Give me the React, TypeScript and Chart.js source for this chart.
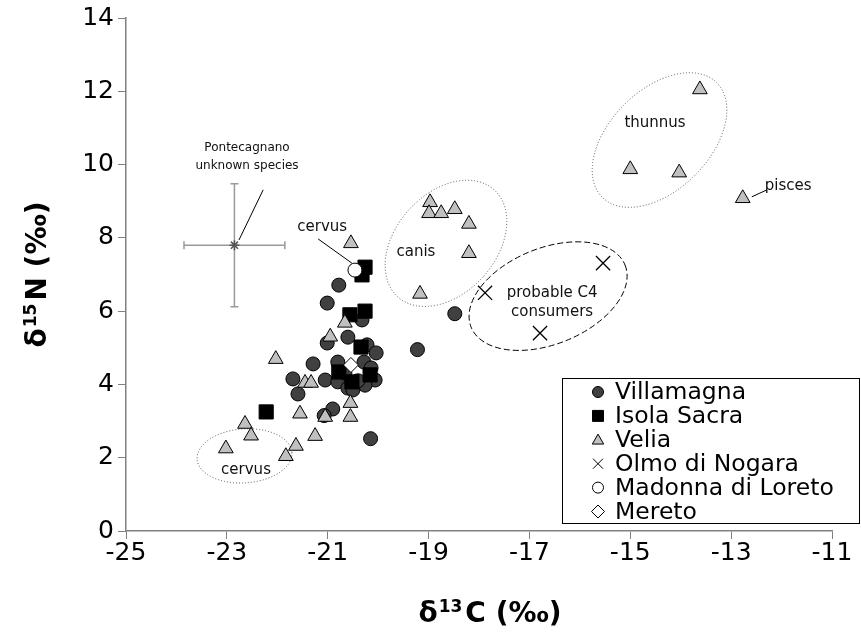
import { useEffect, useRef } from "react";
import { Chart, registerables } from "chart.js";

Chart.register(...registerables);

const FONT = '"DejaVu Sans", Verdana, sans-serif';

// δ13C / δ15N values per site (‰)
const villamagnaC13 = [-20.78, -21.01, -20.32, -21.01, -20.6, -20.22, -20.04, -21.29, -20.8, -20.28, -20.14, -20.06, -21.69, -21.05, -20.8, -20.6, -20.26, -21.59, -20.9, -21.07, -20.15, -19.22, -18.48, -20.66, -20.5, -20.4];
const villamagnaN15 = [6.71, 6.22, 5.76, 5.13, 5.29, 5.08, 4.86, 4.56, 4.61, 4.61, 4.45, 4.12, 4.15, 4.12, 4.07, 3.9, 3.98, 3.74, 3.33, 3.15, 2.52, 4.95, 5.93, 4.31, 3.85, 4.1];

const isolaSacraC13 = [-20.26, -20.32, -20.56, -20.26, -20.34, -20.78, -20.16, -20.52, -22.22];
const isolaSacraN15 = [7.2, 6.99, 5.9, 6.0, 5.02, 4.34, 4.26, 4.07, 3.25];

const veliaC13 = [-20.54, -20.66, -20.95, -22.03, -21.45, -21.33, -20.55, -20.55, -21.05, -21.55, -22.64, -22.52, -21.25, -21.63, -21.83, -23.02, -18.97, -18.99, -18.75, -18.48, -18.2, -18.2, -19.17, -13.62, -15.0, -14.03, -12.77];
const veliaN15 = [7.85, 5.68, 5.3, 4.69, 4.04, 4.04, 3.49, 3.11, 3.11, 3.2, 2.92, 2.6, 2.59, 2.32, 2.04, 2.25, 8.97, 8.67, 8.67, 8.78, 8.38, 7.58, 6.47, 12.05, 9.87, 9.78, 9.08];

const olmoC13 = [-17.88, -15.54, -16.79];
const olmoN15 = [6.5, 7.31, 5.4];

const madonnaC13 = [-20.46];
const madonnaN15 = [7.12];

const meretoC13 = [-20.54];
const meretoN15 = [4.53];

// Pontecagnano, unknown species: mean with ±1 SD
const pontecagnanoC13 = [-22.85];
const pontecagnanoN15 = [7.8];
const pontecagnanoC13Sd = [1.0];
const pontecagnanoN15Sd = [1.68];

const xTicksMin = -25;
const xTicksMax = -11;
const yTicksMin = 0;
const yTicksMax = 14;
const tickStep = 2;

// group outlines: centre in data units, radii (px), rotation (deg)
const groupEllipses = [
  { cx: -22.65, cy: 2.05, rx: 47.5, ry: 27, rot: -4, dash: [1, 2] },
  { cx: -18.655, cy: 7.85, rx: 50, ry: 72, rot: 42, dash: [1, 2] },
  { cx: -14.42, cy: 10.67, rx: 50, ry: 81, rot: 45, dash: [1, 2] },
  { cx: -16.63, cy: 6.41, rx: 83, ry: 48, rot: -22, dash: [6, 3] },
];

const groupLabels = [
  { text: "Pontecagnano", x: -22.6, y: 10.45, size: 12 },
  { text: "unknown species", x: -22.6, y: 9.96, size: 12 },
  { text: "cervus", x: -21.11, y: 8.3, size: 15 },
  { text: "canis", x: -19.25, y: 7.61, size: 15 },
  { text: "thunnus", x: -14.51, y: 11.14, size: 15 },
  { text: "pisces", x: -11.87, y: 9.42, size: 15 },
  { text: "probable C4", x: -16.55, y: 6.5, size: 15 },
  { text: "consumers", x: -16.55, y: 5.98, size: 15 },
  { text: "cervus", x: -22.62, y: 1.66, size: 15 },
];

const leaderLines = [
  { x1: -22.76, y1: 7.94, x2: -22.28, y2: 9.31 },
  { x1: -21.19, y1: 7.97, x2: -20.52, y2: 7.31 },
  { x1: -12.59, y1: 9.12, x2: -12.29, y2: 9.31 },
];

const pts = (xs: number[], ys: number[]) => xs.map((x, i) => ({ x, y: ys[i] }));

type Shape = "circle" | "rect" | "triangle" | "crossRot" | "rectRot";

function drawShape(ctx: CanvasRenderingContext2D, shape: Shape, x: number, y: number, r: number, fill: string | null) {
  ctx.beginPath();
  if (shape === "circle") {
    ctx.arc(x, y, r, 0, Math.PI * 2);
  } else if (shape === "rect") {
    ctx.rect(x - r, y - r, 2 * r, 2 * r);
  } else if (shape === "triangle") {
    const h = r * 0.95;
    ctx.moveTo(x, y - h);
    ctx.lineTo(x + r * 0.95, y + h * 0.75);
    ctx.lineTo(x - r * 0.95, y + h * 0.75);
    ctx.closePath();
  } else if (shape === "rectRot") {
    ctx.moveTo(x - r, y);
    ctx.lineTo(x, y - r);
    ctx.lineTo(x + r, y);
    ctx.lineTo(x, y + r);
    ctx.closePath();
  } else if (shape === "crossRot") {
    ctx.moveTo(x - r, y - r);
    ctx.lineTo(x + r, y + r);
    ctx.moveTo(x + r, y - r);
    ctx.lineTo(x - r, y + r);
  }
  if (fill && shape !== "crossRot") {
    ctx.fillStyle = fill;
    ctx.fill();
  }
  ctx.strokeStyle = "#000";
  ctx.lineWidth = 1;
  ctx.stroke();
}

const legendItems: { label: string; shape: Shape; fill: string | null; r: number }[] = [
  { label: "Villamagna", shape: "circle", fill: "#404040", r: 5.5 },
  { label: "Isola Sacra", shape: "rect", fill: "#000", r: 5.5 },
  { label: "Velia", shape: "triangle", fill: "#c0c0c0", r: 6 },
  { label: "Olmo di Nogara", shape: "crossRot", fill: null, r: 5 },
  { label: "Madonna di Loreto", shape: "circle", fill: "#fff", r: 5.5 },
  { label: "Mereto", shape: "rectRot", fill: "#fff", r: 6.5 },
];

function drawTitle(ctx: CanvasRenderingContext2D, pieces: { t: string; size: number; rise: number; gap: number }[]) {
  let total = 0;
  const widths = pieces.map((p) => {
    ctx.font = `bold ${p.size}px ${FONT}`;
    const w = ctx.measureText(p.t).width + p.gap;
    total += w;
    return w;
  });
  let x = -total / 2;
  ctx.textBaseline = "alphabetic";
  ctx.textAlign = "left";
  ctx.fillStyle = "#000";
  pieces.forEach((p, i) => {
    ctx.font = `bold ${p.size}px ${FONT}`;
    ctx.fillText(p.t, x, 10 - p.rise);
    x += widths[i];
  });
}

const annotations = {
  id: "annotations",
  beforeDatasetsDraw(chart: any) {
    const { ctx, scales } = chart;
    const xs = scales.x;
    const ys = scales.y;
    ctx.save();
    ctx.strokeStyle = "#9a9a9a";
    ctx.lineWidth = 1.5;
    pontecagnanoC13.forEach((c, i) => {
      const n = pontecagnanoN15[i];
      const px = xs.getPixelForValue(c);
      const py = ys.getPixelForValue(n);
      const x1 = xs.getPixelForValue(c - pontecagnanoC13Sd[i]);
      const x2 = xs.getPixelForValue(c + pontecagnanoC13Sd[i]);
      const y1 = ys.getPixelForValue(n + pontecagnanoN15Sd[i]);
      const y2 = ys.getPixelForValue(n - pontecagnanoN15Sd[i]);
      const cap = 4;
      ctx.beginPath();
      ctx.moveTo(x1, py);
      ctx.lineTo(x2, py);
      ctx.moveTo(x1, py - cap);
      ctx.lineTo(x1, py + cap);
      ctx.moveTo(x2, py - cap);
      ctx.lineTo(x2, py + cap);
      ctx.moveTo(px, y1);
      ctx.lineTo(px, y2);
      ctx.moveTo(px - cap, y1);
      ctx.lineTo(px + cap, y1);
      ctx.moveTo(px - cap, y2);
      ctx.lineTo(px + cap, y2);
      ctx.stroke();
    });

    // group outlines
    groupEllipses.forEach((e) => {
      ctx.beginPath();
      ctx.setLineDash(e.dash);
      ctx.strokeStyle = e.dash[0] > 2 ? "#000" : "#555";
      ctx.lineWidth = 1;
      ctx.ellipse(xs.getPixelForValue(e.cx), ys.getPixelForValue(e.cy), e.rx, e.ry, (e.rot * Math.PI) / 180, 0, Math.PI * 2);
      ctx.stroke();
    });
    ctx.setLineDash([]);
    ctx.restore();
  },
  afterDatasetsDraw(chart: any) {
    const { ctx, scales } = chart;
    const xs = scales.x;
    const ys = scales.y;
    ctx.save();

    ctx.strokeStyle = "#000";
    ctx.lineWidth = 1;
    leaderLines.forEach((l) => {
      ctx.beginPath();
      ctx.moveTo(xs.getPixelForValue(l.x1), ys.getPixelForValue(l.y1));
      ctx.lineTo(xs.getPixelForValue(l.x2), ys.getPixelForValue(l.y2));
      ctx.stroke();
    });

    ctx.fillStyle = "#111";
    ctx.textAlign = "center";
    ctx.textBaseline = "middle";
    groupLabels.forEach((l) => {
      ctx.font = `${l.size}px ${FONT}`;
      ctx.fillText(l.text, xs.getPixelForValue(l.x), ys.getPixelForValue(l.y));
    });

    // legend
    const lx = 562.5;
    const ly = 378.5;
    ctx.fillStyle = "#fff";
    ctx.fillRect(lx, ly, 297, 145);
    ctx.strokeStyle = "#000";
    ctx.lineWidth = 1;
    ctx.strokeRect(lx, ly, 297, 145);
    legendItems.forEach((it, i) => {
      const y = 392 + i * 23.9;
      drawShape(ctx, it.shape, 598, y, it.r, it.fill);
      ctx.fillStyle = "#000";
      ctx.font = `23.5px ${FONT}`;
      ctx.textAlign = "left";
      ctx.textBaseline = "middle";
      ctx.fillText(it.label, 615, y + 1);
    });

    // axis titles
    ctx.save();
    ctx.translate(490, 612);
    drawTitle(ctx, [
      { t: "δ", size: 28, rise: 0, gap: 1 },
      { t: "13", size: 17, rise: 10, gap: 3 },
      { t: "C (‰)", size: 28, rise: 0, gap: 0 },
    ]);
    ctx.restore();
    ctx.save();
    ctx.translate(36, 274.5);
    ctx.rotate(-Math.PI / 2);
    drawTitle(ctx, [
      { t: "δ", size: 28, rise: 0, gap: 1 },
      { t: "15", size: 17, rise: 10, gap: 3 },
      { t: "N (‰)", size: 28, rise: 0, gap: 0 },
    ]);
    ctx.restore();

    ctx.restore();
  },
};

export default function App() {
  const ref = useRef<HTMLCanvasElement>(null);

  useEffect(() => {
    const axisCommon = {
      type: "linear" as const,
      grid: { display: true, drawOnChartArea: false, drawTicks: true, tickLength: 8, color: "#808080", lineWidth: 1 },
      border: { display: true, color: "#808080", width: 1.5 },
      title: { display: false },
    };
    const chart = new Chart(ref.current!, {
      type: "scatter",
      data: {
        datasets: [
          { label: "Villamagna", data: pts(villamagnaC13, villamagnaN15), pointStyle: "circle", pointRadius: 7, backgroundColor: "#404040", borderColor: "#000", borderWidth: 1, order: 7 },
          { label: "Isola Sacra", data: pts(isolaSacraC13, isolaSacraN15), pointStyle: "rect", pointRadius: 10, backgroundColor: "#000", borderColor: "#000", borderWidth: 1, order: 6 },
          { label: "Velia", data: pts(veliaC13, veliaN15), pointStyle: "triangle", pointRadius: 8.5, backgroundColor: "#c0c0c0", borderColor: "#000", borderWidth: 1, order: 5 },
          { label: "Olmo di Nogara", data: pts(olmoC13, olmoN15), pointStyle: "crossRot", pointRadius: 10, backgroundColor: "#000", borderColor: "#000", borderWidth: 1.3, order: 4 },
          { label: "Madonna di Loreto", data: pts(madonnaC13, madonnaN15), pointStyle: "circle", pointRadius: 7, backgroundColor: "#fff", borderColor: "#000", borderWidth: 1, order: 3 },
          { label: "Mereto", data: pts(meretoC13, meretoN15), pointStyle: "rectRot", pointRadius: 7.5, backgroundColor: "#fff", borderColor: "#000", borderWidth: 1, order: 2 },
          { label: "Pontecagnano", data: pts(pontecagnanoC13, pontecagnanoN15), pointStyle: "star", pointRadius: 5, backgroundColor: "#555", borderColor: "#555", borderWidth: 1.5, order: 1 },
        ],
      },
      options: {
        responsive: false,
        animation: false,
        events: [],
        layout: { padding: { top: 18, right: 29, left: 0, bottom: 0 } },
        plugins: { legend: { display: false }, tooltip: { enabled: false } },
        scales: {
          x: {
            ...axisCommon,
            min: xTicksMin,
            max: xTicksMax,
            ticks: { stepSize: tickStep, color: "#000", font: { family: FONT, size: 25 }, padding: -1, maxRotation: 0 },
            afterFit: (s: any) => {
              s.height = 110;
              s.paddingLeft = 0;
              s.paddingRight = 0;
            },
          },
          y: {
            ...axisCommon,
            min: yTicksMin,
            max: yTicksMax,
            ticks: { stepSize: tickStep, color: "#000", font: { family: FONT, size: 25 }, padding: 4 },
            afterFit: (s: any) => {
              s.width = 126;
              s.paddingTop = 0;
              s.paddingBottom = 0;
            },
          },
        },
      },
      plugins: [annotations],
    });
    return () => chart.destroy();
  }, []);

  return (
    <div style={{ position: "absolute", left: 0, top: 0, width: 861, height: 641, background: "#fff" }}>
      <canvas ref={ref} width={861} height={641} style={{ display: "block" }} />
    </div>
  );
}
